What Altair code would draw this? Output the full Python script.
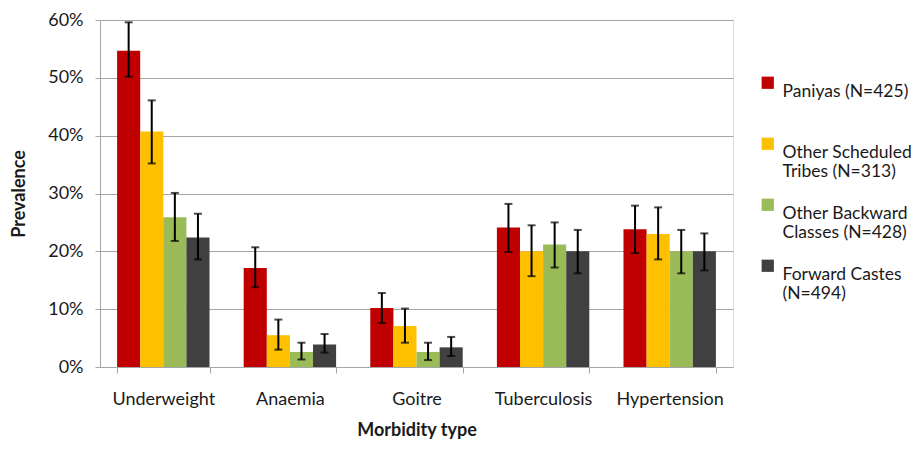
import altair as alt
import pandas as pd

categories = ["Underweight", "Anaemia", "Goitre", "Tuberculosis", "Hypertension"]
groups = ["Paniyas (N=425)|", "Other Scheduled|Tribes (N=313)",
          "Other Backward|Classes (N=428)", "Forward Castes|(N=494)"]
colors = ["#C00000", "#FFC000", "#9BBB59", "#404040"]

paniyas = [54.7, 17.1, 10.2, 24.1, 23.8]
paniyas_lo = [50.2, 13.8, 7.6, 19.9, 19.7]
paniyas_hi = [59.6, 20.7, 12.8, 28.2, 27.9]

ost = [40.7, 5.5, 7.1, 20.0, 23.0]
ost_lo = [35.2, 3.0, 4.2, 15.7, 18.6]
ost_hi = [46.1, 8.2, 10.1, 24.5, 27.6]

obc = [25.9, 2.6, 2.6, 21.2, 20.0]
obc_lo = [21.8, 1.3, 1.2, 17.2, 16.2]
obc_hi = [30.1, 4.2, 4.2, 25.0, 23.7]

fc = [22.4, 3.9, 3.4, 20.0, 20.0]
fc_lo = [18.6, 2.5, 1.9, 16.2, 16.7]
fc_hi = [26.5, 5.7, 5.2, 23.7, 23.1]

series = [(paniyas, paniyas_lo, paniyas_hi), (ost, ost_lo, ost_hi),
          (obc, obc_lo, obc_hi), (fc, fc_lo, fc_hi)]

rows = []
for g, (v, lo, hi) in zip(groups, series):
    for c, a, b, d in zip(categories, v, lo, hi):
        rows.append({"category": c, "group": g, "value": a / 100,
                     "lo": b / 100, "hi": d / 100})
df = pd.DataFrame(rows)

FONT = "Lato"
TXT = "#1a1a1a"
GRID = "#A6A6A6"

x = alt.X("category:N", sort=categories, title="Morbidity type",
          scale=alt.Scale(paddingInner=0.27, paddingOuter=0.135),
          axis=alt.Axis(labelAngle=0, tickBand="extent", tickSize=6,
                        labelPadding=17, titlePadding=13,
                        domainColor=GRID, tickColor=GRID,
                        labelFontSize=18, titleFontSize=18,
                        labelColor=TXT, titleColor=TXT,
                        labelFont=FONT, titleFont=FONT, titleFontWeight="bold"))
xo = alt.XOffset("group:N", sort=groups, scale=alt.Scale(paddingInner=0, paddingOuter=0))

base = alt.Chart(df)

bars = base.mark_bar().encode(
    x=x,
    xOffset=xo,
    y=alt.Y("value:Q", title="Prevalence",
            scale=alt.Scale(domain=[0, 0.6], nice=False),
            axis=alt.Axis(format=".0%", values=[0, 0.1, 0.2, 0.3, 0.4, 0.5, 0.6],
                          domainColor=GRID, tickSize=5, tickColor=GRID,
                          gridColor=GRID, gridWidth=1.2, labelPadding=12,
                          titlePadding=19,
                          labelFontSize=18, titleFontSize=18,
                          labelColor=TXT, titleColor=TXT,
                          labelFont=FONT, titleFont=FONT, titleFontWeight="bold")),
    color=alt.Color("group:N", sort=groups,
                    scale=alt.Scale(domain=groups, range=colors),
                    legend=alt.Legend(title=None, orient="none", legendX=659, legendY=54,
                                      symbolType="square", symbolSize=150,
                                      symbolStrokeWidth=0, labelFontSize=17.5,
                                      labelFont=FONT, labelColor=TXT,
                                      labelExpr="split(datum.label, '|')",
                                      labelBaseline="top", labelOffset=6,
                                      rowPadding=15, labelLimit=200)),
)

rules = base.mark_rule(color="black", strokeWidth=2).encode(
    x=alt.X("category:N", sort=categories),
    xOffset=xo,
    y="lo:Q",
    y2="hi:Q",
)
caps_lo = base.mark_tick(color="black", thickness=2, size=8, orient="horizontal").encode(
    x=alt.X("category:N", sort=categories), xOffset=xo, y="lo:Q")
caps_hi = base.mark_tick(color="black", thickness=2, size=8, orient="horizontal").encode(
    x=alt.X("category:N", sort=categories), xOffset=xo, y="hi:Q")

chart = alt.layer(bars, rules, caps_lo, caps_hi).properties(
    width=633, height=347,
    autosize=alt.AutoSizeParams(type="none"),
    padding={"left": 92, "top": 12, "right": 181, "bottom": 78},
).configure_view(stroke=None).configure(background="white")

chart.save("out.html", embed_options={"renderer": "svg", "actions": False})
